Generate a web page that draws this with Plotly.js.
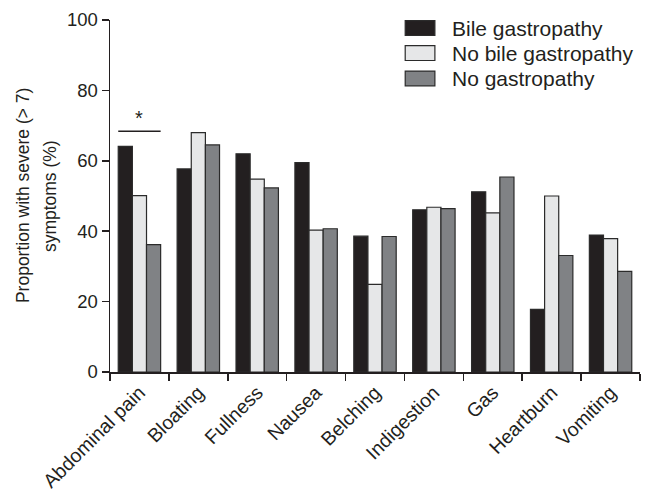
<!DOCTYPE html>
<html>
<head>
<meta charset="utf-8">
<script src="https://cdn.plot.ly/plotly-3.0.1.min.js"></script>
<style>html,body{margin:0;padding:0;background:#fff;}#chart{width:651px;height:495px;}</style>
</head>
<body>
<div id="chart"></div>
<script>
const categories = ["Abdominal pain","Bloating","Fullness","Nausea","Belching","Indigestion","Gas","Heartburn","Vomiting"];
const seriesNames = ["Bile gastropathy","No bile gastropathy","No gastropathy"];
const bileGastropathy = [64.1, 57.7, 62.0, 59.5, 38.6, 46.1, 51.2, 17.8, 38.9];
const noBileGastropathy = [50.1, 68.0, 54.8, 40.3, 24.9, 46.8, 45.2, 50.0, 37.9];
const noGastropathy = [36.2, 64.5, 52.3, 40.7, 38.5, 46.4, 55.4, 33.1, 28.6];
const yTicks = [0, 20, 40, 60, 80, 100];
const yTitleLines = ["Proportion with severe (> 7)", "symptoms (%)"];
const sigLevel = 68.4;

const colors = ["#231f20", "#e6e7e8", "#808285"];
const seriesValues = [bileGastropathy, noBileGastropathy, noGastropathy];
const textColor = "#231f20";
const font = "Liberation Sans, Arial, Helvetica, sans-serif";

const traces = seriesValues.map((vals, i) => ({
  type: "bar",
  name: seriesNames[i],
  x: categories,
  y: vals,
  marker: {color: colors[i], line: {color: "#2b2b2b", width: 1.2}},
  showlegend: false,
  hoverinfo: "x+y+name"
}));

const shapes = [];
const annotations = [];
const legendX0 = 0.557, legendX1 = 0.613, legendH = 0.042;
const legendY = [0.977, 0.906, 0.834];
seriesNames.forEach((n, i) => {
  shapes.push({type: "rect", xref: "paper", yref: "paper",
    x0: legendX0, x1: legendX1, y0: legendY[i] - legendH/2, y1: legendY[i] + legendH/2,
    fillcolor: colors[i], line: {color: "#2b2b2b", width: 1.2}});
  annotations.push({xref: "paper", yref: "paper", x: 0.642, y: legendY[i],
    xanchor: "left", yanchor: "middle", showarrow: false, text: n,
    font: {family: font, size: 21, color: textColor}});
});
// y-axis title, two lines
const yTitleX = [-0.164, -0.113];
yTitleLines.forEach((t, i) => {
  annotations.push({xref: "paper", yref: "paper", x: yTitleX[i], y: 0.5,
    xanchor: "center", yanchor: "middle", textangle: -90, showarrow: false, text: t,
    font: {family: font, size: 17.5, color: textColor}});
});
// significance bar over Abdominal pain
shapes.push({type: "line", xref: "x", yref: "y", x0: -0.36, x1: 0.36, y0: sigLevel, y1: sigLevel,
  line: {color: textColor, width: 1.5}});
annotations.push({xref: "x", yref: "y", x: 0, y: sigLevel, yanchor: "bottom", showarrow: false,
  text: "*", font: {family: font, size: 20, color: textColor}});

const layout = {
  width: 651, height: 495,
  margin: {l: 110, r: 11, t: 20, b: 123},
  paper_bgcolor: "#fff", plot_bgcolor: "#fff",
  barmode: "group", bargap: 0.28, bargroupgap: 0,
  font: {family: font, color: textColor, size: 17},
  xaxis: {
    type: "category", tickson: "boundaries", ticks: "outside", ticklen: 7,
    tickwidth: 1.5, tickcolor: textColor,
    showline: true, linecolor: textColor, linewidth: 1.5,
    showgrid: false, zeroline: false, tickangle: -45,
    tickfont: {family: font, size: 19.5, color: textColor}
  },
  yaxis: {
    range: [0, 100], tickvals: yTicks, ticks: "outside", ticklen: 7,
    tickwidth: 1.5, tickcolor: textColor,
    showline: true, linecolor: textColor, linewidth: 1.5,
    showgrid: false, zeroline: false,
    tickfont: {family: font, size: 18.5, color: textColor}
  },
  shapes: shapes,
  annotations: annotations
};

Plotly.newPlot("chart", traces, layout, {displayModeBar: false, staticPlot: true});
</script>
</body>
</html>
